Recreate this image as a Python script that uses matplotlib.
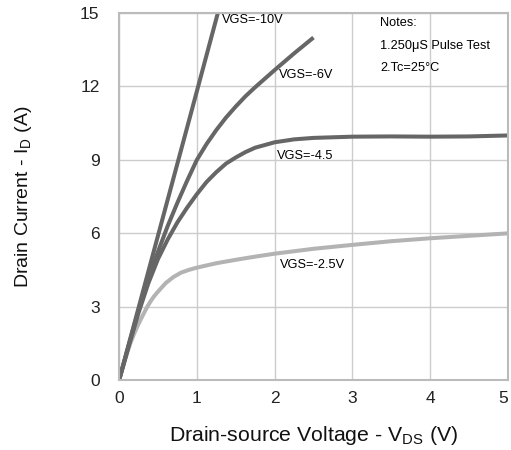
import matplotlib
matplotlib.use('Agg')
from matplotlib import pyplot as plt

# 数据
vgs10_x = [0, 0.5, 1.0, 1.27]
vgs10_y = [0, 5.9, 11.8, 15.0]

vgs6_x = [0, 0.125, 0.25, 0.375, 0.5, 0.625, 0.75, 0.875, 1.0, 1.125, 1.25, 1.375, 1.5, 1.625, 1.75,
          1.875, 2.0, 2.25, 2.5]
vgs6_y = [0, 1.45, 2.85, 4.15, 5.25, 6.3, 7.25, 8.15, 9.0, 9.65, 10.22, 10.73, 11.18, 11.6, 11.97,
          12.32, 12.67, 13.35, 14.0]

vgs45_x = [0, 0.125, 0.25, 0.375, 0.5, 0.625, 0.75, 0.875, 1.0, 1.125, 1.25, 1.375, 1.5, 1.625, 1.75,
           2.0, 2.25, 2.5, 3.0, 3.5, 4.0, 4.5, 5.0]
vgs45_y = [0, 1.4, 2.75, 3.95, 4.95, 5.75, 6.45, 7.05, 7.6, 8.1, 8.5, 8.85, 9.1, 9.32, 9.5,
           9.72, 9.84, 9.9, 9.95, 9.96, 9.95, 9.96, 10.0]

vgs25_x = [0, 0.05, 0.1, 0.15, 0.2, 0.25, 0.3, 0.35, 0.4, 0.45, 0.5, 0.6, 0.7, 0.8, 0.9, 1.0,
           1.25, 1.5, 1.75, 2.0, 2.5, 3.0, 3.5, 4.0, 4.5, 5.0]
vgs25_y = [0, 0.55, 1.08, 1.55, 1.95, 2.3, 2.62, 2.93, 3.2, 3.43, 3.62, 3.97, 4.22, 4.4, 4.51, 4.6,
           4.78, 4.92, 5.05, 5.17, 5.37, 5.53, 5.68, 5.8, 5.9, 6.0]

x_ticks = [0, 1, 2, 3, 4, 5]
y_ticks = [0, 3, 6, 9, 12, 15]

plt.rcParams['font.family'] = ['Liberation Sans', 'DejaVu Sans']
plt.rcParams['mathtext.fontset'] = 'custom'
plt.rcParams['mathtext.rm'] = 'Liberation Sans'

fig = plt.figure(figsize=(5.11, 4.5), dpi=100)
ax = fig.add_axes([0.233, 0.155, 0.761, 0.816])

dark = '#666666'
light = '#b3b3b3'
kw = dict(linewidth=2.9, solid_capstyle='butt', solid_joinstyle='round')
ax.plot(vgs25_x, vgs25_y, color=light, **kw)
ax.plot(vgs45_x, vgs45_y, color=dark, **kw)
ax.plot(vgs6_x, vgs6_y, color=dark, **kw)
ax.plot(vgs10_x, vgs10_y, color=dark, **kw)

ax.set_xlim(0, 5)
ax.set_ylim(0, 15)
ax.set_xticks(x_ticks)
ax.set_yticks(y_ticks)
ax.grid(True, color='#cccccc', linewidth=1)
ax.set_axisbelow(True)
ax.tick_params(length=0, labelsize=12.5, colors='#222222')
ax.tick_params(axis='y', pad=14)
ax.tick_params(axis='x', pad=8)
ax.get_xticklabels()[-1].set_horizontalalignment('right')
for s in ax.spines.values():
    s.set_color('#bbbbbb')
    s.set_linewidth(1.5)

ax.set_xlabel(r'Drain-source Voltage - V$_\mathregular{DS}$ (V)', fontsize=15.3, labelpad=13, color='#111111')
ax.set_ylabel(r'Drain Current - I$_\mathregular{D}$ (A)', fontsize=14, labelpad=33, color='#111111')

fs = 9.2
ax.text(1.32, 14.7, 'VGS=-10V', fontsize=fs, va='center')
ax.text(2.05, 12.45, 'VGS=-6V', fontsize=fs, va='center')
ax.text(2.03, 9.18, 'VGS=-4.5', fontsize=fs, va='center')
ax.text(2.07, 4.7, 'VGS=-2.5V', fontsize=fs, va='center')
ax.text(3.36, 14.6, 'Notes:', fontsize=fs, va='center')
ax.text(3.36, 13.67, '1.250μS Pulse Test', fontsize=fs, va='center')
ax.text(3.36, 12.77, '2.Tc=25°C', fontsize=fs, va='center')

plt.savefig('out.png', dpi=100)
